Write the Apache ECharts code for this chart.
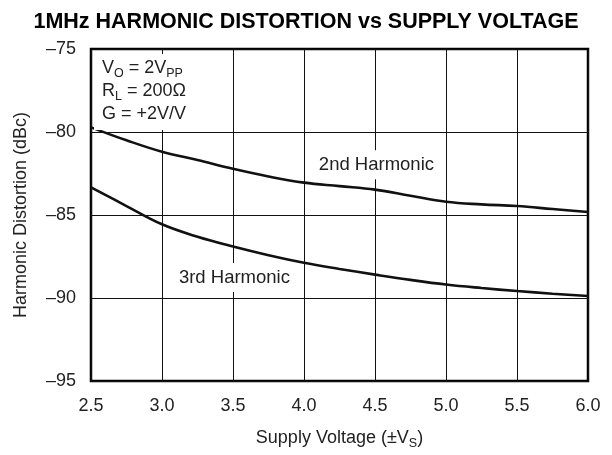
<!DOCTYPE html>
<html>
<head>
<meta charset="utf-8">
<script src="https://cdn.jsdelivr.net/npm/echarts@6/dist/echarts.min.js"></script>
<style>html,body{margin:0;padding:0;background:#fff}#c{width:612px;height:455px}</style>
</head>
<body>
<div id="c"></div>
<script>
// Supply voltage (±VS) sample points
const supplyVoltage = [2.5, 2.75, 3.0, 3.25, 3.5, 3.75, 4.0, 4.25, 4.5, 4.75, 5.0, 5.25, 5.5, 5.75, 6.0];
// Harmonic distortion (dBc)
const harmonic2nd = [-79.72, -80.50, -81.19, -81.69, -82.22, -82.68, -83.05, -83.26, -83.47, -83.84, -84.20, -84.36, -84.46, -84.64, -84.82];
const harmonic3rd = [-83.33, -84.46, -85.56, -86.31, -86.90, -87.42, -87.88, -88.25, -88.59, -88.91, -89.19, -89.40, -89.58, -89.74, -89.88];
const xTicks = [2.5, 3.0, 3.5, 4.0, 4.5, 5.0, 5.5, 6.0];
const yTicks = [-95, -90, -85, -80, -75];
const seriesNames = ['2nd Harmonic', '3rd Harmonic'];
const labelCoords = [[4.51, -81.98], [3.51, -88.76]];

const FONT = '"Liberation Sans", Arial, Helvetica, sans-serif';
const chart = echarts.init(document.getElementById('c'), null, {renderer: 'canvas'});

function pairs(xs, ys) { return xs.map((x, i) => [x, ys[i]]); }
function labelMark(i) {
  return {
    symbol: 'rect', symbolSize: 0, silent: true,
    label: {
      show: true, position: 'inside', formatter: seriesNames[i],
      color: '#222', fontSize: 18.5, fontFamily: FONT,
      backgroundColor: '#fff', padding: [5, 4]
    },
    data: [{coord: labelCoords[i]}]
  };
}

chart.setOption({
  backgroundColor: '#fff',
  animation: false,
  title: {
    text: '1MHz HARMONIC DISTORTION vs SUPPLY VOLTAGE',
    left: 'center', top: 6,
    textStyle: {fontFamily: FONT, fontSize: 21.5, fontWeight: 'bold', color: '#000'}
  },
  grid: {left: 91, right: 24, top: 49, bottom: 70, show: true, borderColor: '#000', borderWidth: 2.5, backgroundColor: 'transparent'},
  xAxis: {
    type: 'value', min: xTicks[0], max: xTicks[xTicks.length - 1], interval: 0.5,
    axisLine: {show: false}, axisTick: {show: false},
    splitLine: {show: true, lineStyle: {color: '#111', width: 1}},
    axisLabel: {fontFamily: FONT, fontSize: 18, color: '#222', margin: 16, formatter: v => v.toFixed(1)},
    name: '{a|Supply Voltage (±V}{s|S}{a|)}', nameLocation: 'middle', nameGap: 46,
    nameTextStyle: {
      rich: {
        a: {fontFamily: FONT, fontSize: 18, color: '#222', lineHeight: 23},
        s: {fontFamily: FONT, fontSize: 12.5, color: '#222', verticalAlign: 'bottom', lineHeight: 23}
      }
    }
  },
  yAxis: {
    type: 'value', min: yTicks[0], max: yTicks[yTicks.length - 1], interval: 5,
    axisLine: {show: false}, axisTick: {show: false},
    splitLine: {show: true, lineStyle: {color: '#111', width: 1}},
    axisLabel: {fontFamily: FONT, fontSize: 18, color: '#222', margin: 15, formatter: v => (v < 0 ? '\u2013' : '') + Math.abs(v)},
    name: 'Harmonic Distortion (dBc)', nameLocation: 'middle', nameGap: 61,
    nameTextStyle: {fontFamily: FONT, fontSize: 18, color: '#222'}
  },
  series: [
    {name: seriesNames[0], type: 'line', data: pairs(supplyVoltage, harmonic2nd), smooth: 0.4, showSymbol: false,
     lineStyle: {color: '#111', width: 2.6}, markPoint: labelMark(0), z: 3},
    {name: seriesNames[1], type: 'line', data: pairs(supplyVoltage, harmonic3rd), smooth: 0.4, showSymbol: false,
     lineStyle: {color: '#111', width: 2.6}, markPoint: labelMark(1), z: 3}
  ],
  graphic: [{
    type: 'text', left: 94, top: 54, z: 10,
    style: {
      text: '{a|V}{s|O}{a| = 2V}{s|PP}\n{a|R}{s|L}{a| = 200Ω}\n{a|G = +2V/V}',
      backgroundColor: '#fff', padding: [3, 8, 4, 8],
      rich: {
        a: {fontFamily: FONT, fontSize: 18, fill: '#222', lineHeight: 23},
        s: {fontFamily: FONT, fontSize: 12.5, fill: '#222', verticalAlign: 'bottom', lineHeight: 23}
      }
    }
  }]
});
</script>
</body>
</html>
